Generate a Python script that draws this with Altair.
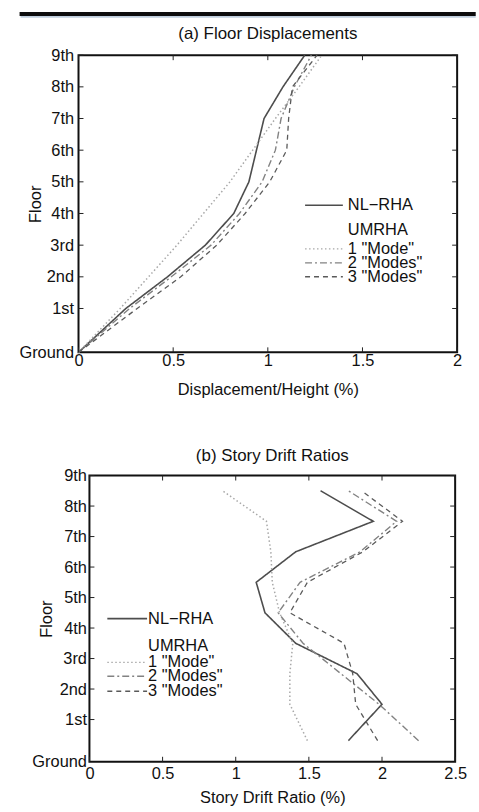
import altair as alt
import pandas as pd

# ---------------- data ----------------
floor_labels = ["Ground", "1st", "2nd", "3rd", "4th", "5th", "6th", "7th", "8th", "9th"]
floor_heights = [0, 18, 31, 44, 57, 70, 83, 96, 109, 122]          # ft, floor levels
story_heights = [9, 24.5, 37.5, 50.5, 63.5, 76.5, 89.5, 102.5, 115.5]  # ft, story mid-heights

series = ["NL\u2212RHA", '1 "Mode"', '2 "Modes"', '3 "Modes"']

# (a) Floor displacements, Ground..9th
disp_nl = [0, 0.25, 0.47, 0.67, 0.82, 0.90, 0.94, 0.98, 1.08, 1.195]
disp_m1 = [0, 0.22, 0.37, 0.52, 0.66, 0.80, 0.92, 1.04, 1.165, 1.285]
disp_m2 = [0, 0.27, 0.49, 0.70, 0.85, 0.97, 1.04, 1.07, 1.14, 1.23]
disp_m3 = [0, 0.31, 0.54, 0.73, 0.88, 1.01, 1.10, 1.11, 1.13, 1.26]

# (b) Story drift ratios, story 1..9
drift_nl = [1.77, 2.00, 1.83, 1.41, 1.20, 1.14, 1.41, 1.94, 1.58]
drift_m1 = [1.49, 1.37, 1.37, 1.39, 1.30, 1.25, 1.24, 1.21, 0.91]
drift_m2 = [2.25, 1.98, 1.72, 1.46, 1.29, 1.44, 1.85, 2.10, 1.77]
drift_m3 = [1.97, 1.82, 1.80, 1.74, 1.37, 1.49, 1.87, 2.14, 1.86]

x_ticks_a = [0, 0.5, 1, 1.5, 2]
x_ticks_b = [0, 0.5, 1, 1.5, 2, 2.5]

legend_header = "UMRHA"

# ---------------- styles ----------------
FONT = "Liberation Sans"
TXT = "#111111"
FS = 16.5
colors = ["#4d4d4d", "#a8a8a8", "#828282", "#5a5a5a"]
dashes = [[1, 0], [1.5, 2.5], [7, 3, 2, 3], [5, 4]]
widths = [1.6, 1.3, 1.4, 1.5]
TICK = 5

color_scale = alt.Scale(domain=series, range=colors)
dash_scale = alt.Scale(domain=series, range=dashes)
width_scale = alt.Scale(domain=series, range=widths)

label_expr = "[" + ",".join("'%s'" % l for l in floor_labels) + "][indexof([" + \
    ",".join(str(h) for h in floor_heights) + "], datum.value)]"


def long_df(heights, cols):
    rows = []
    for s, vals in zip(series, cols):
        for h, v in zip(heights, vals):
            rows.append({"series": s, "h": h, "v": v})
    return pd.DataFrame(rows)


one = pd.DataFrame({"a": [0]})


def panel(df, xdom, xticks, W, H, title, xtitle, x_lab_pad, x_title_pad, y_lab_pad,
          leg_x0, leg_len, leg_text_x, leg_rows, title_y, extras=()):
    sx = alt.Scale(domain=xdom, nice=False, zero=False)
    sy = alt.Scale(domain=[0, 122], nice=False, zero=False)
    xaxis = alt.Axis(values=xticks, title=xtitle, ticks=False, domain=False, grid=False,
                     format="~g", labelPadding=x_lab_pad, titlePadding=x_title_pad,
                     labelFlush=False)
    yaxis = alt.Axis(values=floor_heights, labelExpr=label_expr, title="Floor", ticks=False,
                     domain=False, grid=False, labelPadding=y_lab_pad, titleX=-43,
                     titleBaseline="middle", labelFlush=False)
    lines = alt.Chart(df).mark_line().encode(
        x=alt.X("v:Q", scale=sx, axis=xaxis),
        y=alt.Y("h:Q", scale=sy, axis=yaxis),
        color=alt.Color("series:N", scale=color_scale, legend=None),
        strokeDash=alt.StrokeDash("series:N", scale=dash_scale, legend=None),
        strokeWidth=alt.StrokeWidth("series:N", scale=width_scale, legend=None),
        order=alt.Order("h:Q"),
        detail="series:N",
    )
    xt = pd.DataFrame({"v": xticks})
    yt = pd.DataFrame({"h": floor_heights[1:]})
    tick_style = dict(color="#222", strokeWidth=1)
    top_t = alt.Chart(xt).mark_rule(**tick_style).encode(
        x=alt.X("v:Q", scale=sx, axis=xaxis), y=alt.value(0), y2=alt.value(TICK))
    bot_t = alt.Chart(xt).mark_rule(**tick_style).encode(
        x=alt.X("v:Q", scale=sx, axis=xaxis), y=alt.value(H), y2=alt.value(H - TICK))
    lef_t = alt.Chart(yt).mark_rule(**tick_style).encode(
        y=alt.Y("h:Q", scale=sy, axis=yaxis), x=alt.value(0), x2=alt.value(TICK))
    rig_t = alt.Chart(yt).mark_rule(**tick_style).encode(
        y=alt.Y("h:Q", scale=sy, axis=yaxis), x=alt.value(W), x2=alt.value(W - TICK))

    title_mark = alt.Chart(one).mark_text(
        text=title, align="center", baseline="middle", font=FONT, fontSize=17, color=TXT
    ).encode(x=alt.value(W / 2), y=alt.value(title_y))

    layers = [lines, top_t, bot_t, lef_t, rig_t, title_mark]
    # legend (manual, MATLAB style)
    texts = [series[0], legend_header] + series[1:]
    for txt, yy in zip(texts, leg_rows):
        layers.append(alt.Chart(one).mark_text(
            text=txt, align="left", baseline="middle", font=FONT, fontSize=FS, color=TXT
        ).encode(x=alt.value(leg_text_x), y=alt.value(yy)))
    sample_rows = [leg_rows[0]] + leg_rows[2:]
    for i, yy in enumerate(sample_rows):
        layers.append(alt.Chart(one).mark_rule(
            color=colors[i], strokeDash=dashes[i], strokeWidth=widths[i]
        ).encode(x=alt.value(leg_x0), x2=alt.value(leg_x0 + leg_len), y=alt.value(yy)))
    layers.extend(extras)
    return alt.layer(*layers).properties(width=W, height=H)


WA, HA = 381, 299
WB, HB = 368, 288
OX, OY = 77.3, 51.7

# page-edge rule at the top of the scan, and an anchor at the page corner
edge = alt.Chart(one).mark_rule(color="#0d0d0d", strokeWidth=4).encode(
    x=alt.value(18 - OX), x2=alt.value(477 - OX), y=alt.value(10.3 - OY))
edge2 = alt.Chart(one).mark_rule(color="#8fa9c4", strokeWidth=1).encode(
    x=alt.value(19 - OX), x2=alt.value(477 - OX), y=alt.value(13.2 - OY))
anchor = alt.Chart(one).mark_rule(color="white", strokeWidth=0.5).encode(
    x=alt.value(-OX + 0.5), x2=alt.value(-OX + 1.5), y=alt.value(-OY + 0.5))

chart_a = panel(
    long_df(floor_heights, [disp_nl, disp_m1, disp_m2, disp_m3]),
    [0, 2], x_ticks_a, WA, HA, "(a) Floor Displacements", "Displacement/Height (%)",
    x_lab_pad=0, x_title_pad=13, y_lab_pad=5,
    leg_x0=228, leg_len=38, leg_text_x=271,
    leg_rows=[151, 176, 195, 209, 223], title_y=-21,
    extras=(edge, edge2, anchor),
)

chart_b = panel(
    long_df(story_heights, [drift_nl, drift_m1, drift_m2, drift_m3]),
    [0, 2.5], x_ticks_b, WB, HB, "(b) Story Drift Ratios", "Story Drift Ratio (%)",
    x_lab_pad=4, x_title_pad=7, y_lab_pad=3,
    leg_x0=18, leg_len=40, leg_text_x=59,
    leg_rows=[144, 172, 188, 202, 217], title_y=-20,
)

spacer = alt.Chart(one).mark_point(opacity=0).encode(
    x=alt.value(0), y=alt.value(0)
).properties(width=1, height=HB, view=alt.ViewBackground(stroke="transparent"))

row_b = alt.hconcat(spacer, chart_b, spacing=10, bounds="flush")

chart = alt.vconcat(chart_a, row_b, spacing=124, bounds="flush").properties(
    padding=0, background="white"
).configure_view(
    stroke="#111", strokeWidth=2
).configure_axis(
    labelFont=FONT, labelFontSize=FS, labelColor=TXT,
    titleFont=FONT, titleFontSize=FS, titleFontWeight="normal", titleColor=TXT,
)

chart.save("out.html", embed_options={"renderer": "svg", "actions": False})
